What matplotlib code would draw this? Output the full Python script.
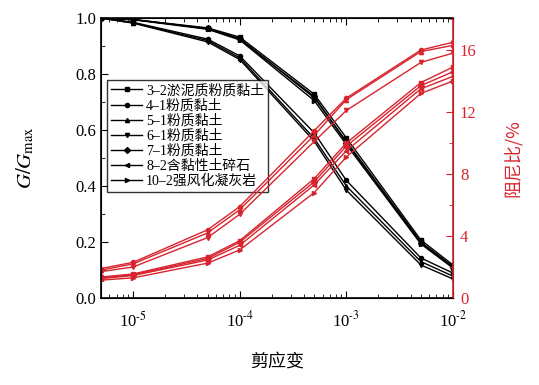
import matplotlib
matplotlib.use("Agg")
import matplotlib.pyplot as plt
from matplotlib.ticker import LogLocator, MultipleLocator, NullFormatter, FixedLocator, FixedFormatter

plt.rcParams['font.family'] = ['Liberation Serif', 'Noto Sans CJK SC', 'DejaVu Sans']
plt.rcParams['mathtext.fontset'] = 'stix'

strain = [5e-6, 1e-5, 5e-5, 1e-4, 5e-4, 1e-3, 5e-3, 1e-2]
labels = ["3–2淤泥质粉质黏土", "4–1粉质黏土", "5–1粉质黏土", "6–1粉质黏土",
          "7–1粉质黏土", "8–2含黏性土碎石", "10–2强风化凝灰岩"]
markers = ["s", "o", "^", "v", "D", "<", ">"]
xticks = [1e-5, 1e-4, 1e-3, 1e-2]
xticklabels = ["10$^{\\text{-5}}$", "10$^{\\text{-4}}$", "10$^{\\text{-3}}$", "10$^{\\text{-2}}$"]

g_3_2 = [1.0, 0.995, 0.965, 0.932, 0.728, 0.572, 0.207, 0.118]
g_4_1 = [1.0, 0.985, 0.925, 0.865, 0.590, 0.420, 0.143, 0.089]
g_5_1 = [1.0, 0.983, 0.920, 0.858, 0.570, 0.400, 0.130, 0.078]
g_6_1 = [1.0, 0.982, 0.915, 0.852, 0.560, 0.385, 0.118, 0.068]
g_7_1 = [1.0, 0.995, 0.963, 0.925, 0.720, 0.555, 0.197, 0.110]
g_8_2 = [1.0, 0.995, 0.962, 0.927, 0.715, 0.560, 0.200, 0.112]
g_10_2 = [1.0, 0.994, 0.960, 0.922, 0.705, 0.548, 0.193, 0.107]

d_3_2 = [1.35, 1.55, 2.65, 3.7, 7.7, 10.0, 13.9, 14.9]
d_4_1 = [1.9, 2.3, 4.4, 5.9, 10.8, 12.9, 16.0, 16.5]
d_5_1 = [1.8, 2.2, 4.2, 5.7, 10.5, 12.8, 15.9, 16.3]
d_6_1 = [1.7, 2.0, 3.9, 5.4, 10.1, 12.1, 15.2, 15.8]
d_7_1 = [1.3, 1.5, 2.55, 3.6, 7.5, 9.8, 13.7, 14.6]
d_8_2 = [1.25, 1.45, 2.45, 3.4, 7.3, 9.5, 13.5, 14.3]
d_10_2 = [1.15, 1.3, 2.25, 3.1, 6.8, 9.1, 13.2, 14.0]

g_all = [g_3_2, g_4_1, g_5_1, g_6_1, g_7_1, g_8_2, g_10_2]
d_all = [d_3_2, d_4_1, d_5_1, d_6_1, d_7_1, d_8_2, d_10_2]

red = "#d8242e"

fig = plt.figure(figsize=(5.39, 3.85), dpi=100)
ax = fig.add_axes([0.1874, 0.226, 0.653, 0.727])
ax2 = ax.twinx()

for g, m, lab in zip(g_all, markers, labels):
    ax.plot(strain, g, color="black", lw=1.0, marker=m, ms=3, label=lab, clip_on=True)
for d, m in zip(d_all, markers):
    ax2.plot(strain, d, color=red, lw=1.0, marker=m, ms=3, clip_on=True)

ax.set_xscale("log")
ax.set_xlim(5e-6, 1e-2)
ax.set_ylim(0, 1.0)
ax2.set_ylim(0, 18.06)

ax.xaxis.set_major_locator(FixedLocator(xticks))
ax.xaxis.set_major_formatter(FixedFormatter(xticklabels))
ax.xaxis.set_minor_locator(LogLocator(base=10, subs=range(2, 10), numticks=20))
ax.xaxis.set_minor_formatter(NullFormatter())
ax.yaxis.set_major_locator(MultipleLocator(0.2))
ax.yaxis.set_minor_locator(MultipleLocator(0.1))
ax2.yaxis.set_major_locator(MultipleLocator(4))
ax2.yaxis.set_minor_locator(MultipleLocator(2))

ax.tick_params(axis="both", which="both", direction="in", top=True, labelsize=12)
ax.tick_params(which="major", length=5)
ax.tick_params(which="minor", length=3)
ax.tick_params(axis="x", which="major", pad=9)
ax2.tick_params(axis="y", which="both", direction="in", colors=red, labelsize=12)
ax2.tick_params(which="major", length=5, pad=5)
ax2.tick_params(which="minor", length=3)
ax2.spines["right"].set_color(red)
ax2.spines["right"].set_linewidth(1.2)
for s in ["left", "bottom", "top"]:
    ax.spines[s].set_linewidth(1.2)

ax.set_ylabel(r"$G/G_{\mathrm{max}}$", fontsize=15, labelpad=28)
ax2.set_ylabel("阻尼比/%", color=red, fontsize=13, family=['Noto Sans CJK SC'], labelpad=20)
ax.set_xlabel("剪应变", fontsize=13, family=['Noto Sans CJK SC'], labelpad=16)

leg = ax.legend(loc="upper left", bbox_to_anchor=(0.01, 0.79),
                prop={'family': ['Liberation Serif', 'Noto Sans CJK SC'], 'size': 10},
                frameon=True, fancybox=False, edgecolor="black", handlelength=2.2,
                labelspacing=0.12, borderpad=0.3, handletextpad=0.3, borderaxespad=0.2)
leg.get_frame().set_linewidth(1.0)

fig.savefig("out.png", dpi=100)
